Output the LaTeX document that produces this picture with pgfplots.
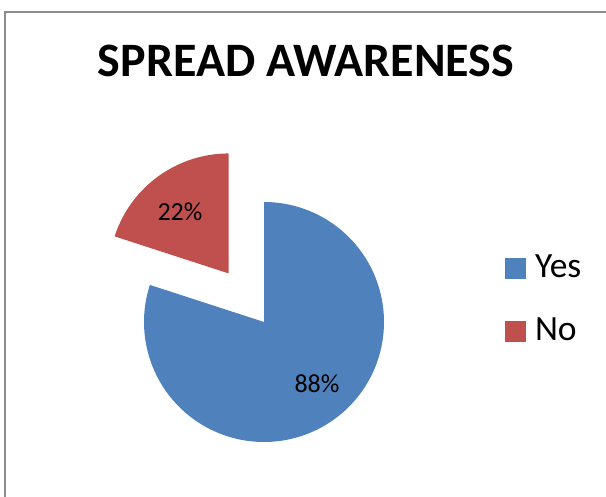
\documentclass[border=0pt]{standalone}
\usepackage{pgfplots}
\pgfplotsset{compat=1.18}
\usepackage{pgfplotstable}
\usepackage{fontspec}
\setmainfont{Carlito}

\definecolor{yescol}{HTML}{4F81BD}
\definecolor{nocol}{HTML}{C0504D}
\definecolor{framecol}{HTML}{8C8C8C}

% share of each answer (as printed on the chart)
\pgfplotstableread{
label value
Yes   88
No    22
}\piedata

\begin{document}
\begin{tikzpicture}
\pgfplotstablegetelem{0}{value}\of\piedata \edef\yesval{\pgfplotsretval}
\pgfplotstablegetelem{1}{value}\of\piedata \edef\noval{\pgfplotsretval}
\pgfmathsetmacro\total{\yesval+\noval}
% Yes: clockwise from 12 o'clock; No: the rest, pulled out
\pgfmathsetmacro\yesend{90-\yesval/\total*360}
\pgfmathsetmacro\noend{90+\noval/\total*360}
\pgfmathsetmacro\nomid{(90+\noend)/2}
\pgfmathsetmacro\dx{0.5*cos(\nomid)}
\pgfmathsetmacro\dy{0.5*sin(\nomid)}
\begin{axis}[
    x=120bp, y=120bp,
    xmin=-2.2, xmax=2.85,
    ymin=-1.4583, ymax=2.6833,
    hide axis,
    clip=false,
    legend image code/.code={\fill[#1] (0bp,-1.5bp) rectangle (21bp,19.5bp);},
    legend style={
        draw=none, fill=none,
        at={(axis cs:2.0083,0.5583)}, anchor=north west,
        inner sep=0pt, outer sep=0pt,
        nodes={inner sep=0pt, anchor=base west},
        column sep=9bp, row sep=38bp,
        font=\fontsize{35.5bp}{35.5bp}\selectfont,
    },
]
\addplot[fill=yescol, draw=none, domain=\yesend:90, samples=181]
    ({cos(x)},{sin(x)}) -- (axis cs:0,0) -- cycle;
\addlegendentry{Yes}
\addplot[fill=nocol, draw=none, domain=90:\noend, samples=61]
    ({\dx+cos(x)},{\dy+sin(x)}) -- (axis cs:\dx,\dy) -- cycle;
\addlegendentry{No}

% frame (left and top edges only are visible)
\draw[framecol, line width=2bp] (axis cs:-2.1583,-1.4583) -- (axis cs:-2.1583,2.5833) -- (axis cs:2.85,2.5833);

\node[anchor=base, font=\fontsize{48bp}{48bp}\selectfont\bfseries]
    at (axis cs:0.35,2.0417) {SPREAD AWARENESS};
\node[font=\fontsize{26bp}{26bp}\selectfont] at (axis cs:0.4417,-0.5167) {\yesval\%};
\node[font=\fontsize{26bp}{26bp}\selectfont] at (axis cs:-0.70,0.9167) {\noval\%};
\end{axis}
\pgfresetboundingbox
\useasboundingbox (current axis.south west) rectangle (current axis.north east);
\end{tikzpicture}
\end{document}
